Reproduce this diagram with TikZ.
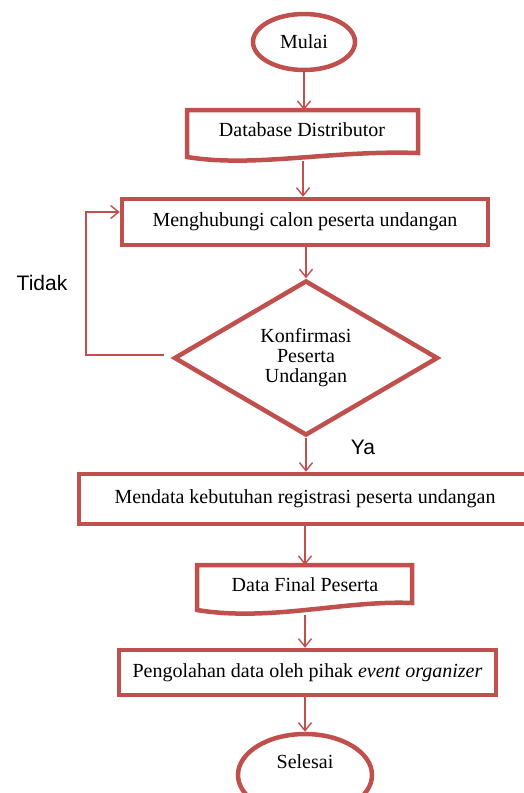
\documentclass[tikz,border=0pt]{standalone}
\usepackage{fontspec}
\setmainfont{Liberation Serif}
\newfontfamily\arialfont{Liberation Sans}
\usetikzlibrary{arrows.meta,shapes.geometric}
\definecolor{boxred}{RGB}{192,80,77}
\begin{document}
\begin{tikzpicture}[x=1pt,y=-1pt,
  txt/.style={font=\fontsize{20}{21}\selectfont,text=black,inner sep=0pt},
  term/.style={ellipse,draw=boxred,line width=4.5pt,inner sep=0pt,txt},
  procbox/.style={rectangle,draw=boxred,line width=4.5pt,inner sep=0pt,txt},
  docline/.style={draw=boxred,line width=4.5pt,line join=miter},
  decide/.style={diamond,draw=boxred,line width=4.5pt,inner sep=0pt,txt,align=center},
  conn/.style={draw=boxred,line width=1.4pt,-{Straight Barb[length=8pt,width=13pt,line width=1.4pt]}},
  lbl/.style={font=\arialfont\fontsize{21}{24}\selectfont,text=black,inner sep=0pt}]
\useasboundingbox (0,0) rectangle (524,793);
\fill[white] (0,0) rectangle (524,793);

% Mulai
\node[term,minimum width=102pt,minimum height=56pt] (start) at (304,42) {Mulai};

% Database Distributor (document)
\path[docline] (187,110) -- (418,110) -- (418,153)
  .. controls (330,150) and (255,168) .. (187,157) -- cycle;
\node[txt] (db) at (302,130) {Database Distributor};
\coordinate (dbn) at (303,110);
\coordinate (dbs) at (303,161);

% Menghubungi
\node[procbox,minimum width=366pt,minimum height=46pt] (meng) at (305,222) {Menghubungi calon peserta undangan};

% Decision
\node[decide,minimum width=264pt,minimum height=155pt] (dec) at (306,358)
  {Konfirmasi\\[-1pt]Peserta\\[-1pt]Undangan};

% Mendata
\node[procbox,minimum width=452pt,minimum height=50pt] (mendata) at (305,499) {Mendata kebutuhan registrasi peserta undangan};

% Data Final Peserta (document)
\path[docline] (197,565) -- (412,565) -- (412,603)
  .. controls (345,600) and (270,622) .. (197,610) -- cycle;
\node[txt] (final) at (305,585) {Data Final Peserta};
\coordinate (finn) at (305,565);
\coordinate (fins) at (305,615);

% Pengolahan
\node[procbox,minimum width=377pt,minimum height=45pt] (olah) at (307.5,672.5) {Pengolahan data oleh pihak \textit{event organizer}};

% Selesai
\node[term,minimum width=134pt,minimum height=82pt] (end) at (305,775) {};
\node[txt] (endtxt) at (305,762) {Selesai};

% labels
\node[lbl] (tidak) at (42,283) {Tidak};
\node[lbl] (ya) at (363,447) {Ya};

% connectors
\draw[conn] (start.south) -- (start.south |- dbn);
\draw[conn] (dbs) -- (dbs |- meng.north);
\draw[conn] (meng.south -| dec.north) -- (dec.north);
\draw[conn] (dec.south) -- (dec.south |- mendata.north);
\draw[conn] (mendata.south) -- (mendata.south |- finn);
\draw[conn] (fins) -- (fins |- olah.north);
\draw[conn] (olah.south -| end.north) -- (end.north);
\coordinate (loopa) at (86,355);
\draw[conn] ([xshift=-8pt,yshift=3pt]dec.west) -- (loopa) |- ([yshift=10pt]meng.west);
\end{tikzpicture}
\end{document}
